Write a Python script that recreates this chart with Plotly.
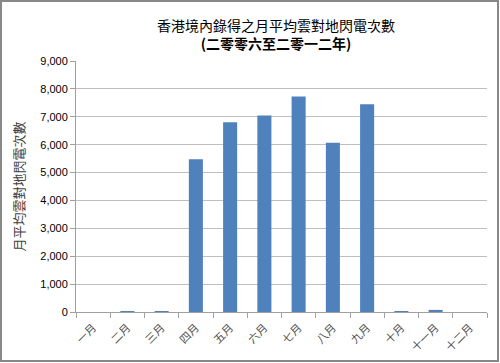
import plotly.graph_objects as go

months = ["一月", "二月", "三月", "四月", "五月", "六月", "七月", "八月", "九月", "十月", "十一月", "十二月"]
flashes = [0, 15, 15, 5475, 6807, 7046, 7725, 6071, 7450, 20, 75, 0]
y_ticks = [0, 1000, 2000, 3000, 4000, 5000, 6000, 7000, 8000, 9000]

FONT = "Noto Sans CJK TC, Noto Sans CJK SC, sans-serif"

fig = go.Figure()
fig.add_trace(go.Bar(
    x=months, y=flashes,
    marker=dict(color="#4F81BD", line=dict(width=0)),
    hoverinfo="x+y",
))

W, H = 500, 363
L, R, T, B = 76, 13, 61, 51
pw, ph = W - L - R, H - T - B

fig.update_layout(
    width=W, height=H,
    margin=dict(l=L, r=R, t=T, b=B, autoexpand=False),
    paper_bgcolor="white", plot_bgcolor="white",
    showlegend=False,
    bargap=0.59,
    font=dict(family=FONT, size=11, color="#404040"),
    title=dict(
        text="香港境內錄得之月平均雲對地閃電次數<br><b>(二零零六至二零一二年)</b>",
        x=276 / W, xanchor="center",
        y=1 - 31 / H, yanchor="middle",
        font=dict(family=FONT, size=14, color="#000000"),
    ),
    xaxis=dict(
        type="category",
        tickangle=-45,
        ticks="outside", tickson="boundaries", ticklen=5,
        tickcolor="#a0a0a0",
        ticklabelstandoff=4,
        showline=True, linecolor="#a0a0a0", linewidth=1,
        showgrid=False,
        tickfont=dict(family=FONT, size=11, color="#505050"),
    ),
    yaxis=dict(
        range=[0, 9000],
        tickvals=y_ticks,
        tickformat=",d",
        ticks="outside", ticklen=5, tickcolor="#a0a0a0",
        showline=True, linecolor="#a0a0a0", linewidth=1,
        showgrid=True, gridcolor="#bfbfbf", gridwidth=1,
        zeroline=False,
        tickfont=dict(family="Liberation Sans, Arial, sans-serif", size=11, color="#000000"),
        title=dict(text="月平均雲對地閃電次數", standoff=12,
                   font=dict(family=FONT, size=13, color="#404040")),
    ),
    shapes=[dict(
        type="rect", xref="paper", yref="paper",
        x0=(1 - L) / pw, x1=(W - 2 - L) / pw,
        y0=-(H - 2 - T - ph) / ph, y1=1 + (T - 1) / ph,
        line=dict(color="#888888", width=2), fillcolor="rgba(0,0,0,0)",
        layer="above",
    )],
)

fig.write_html(
    "out.html",
    config={"displayModeBar": False},
    post_script="document.body.style.margin='0';document.body.style.overflow='hidden';",
)
